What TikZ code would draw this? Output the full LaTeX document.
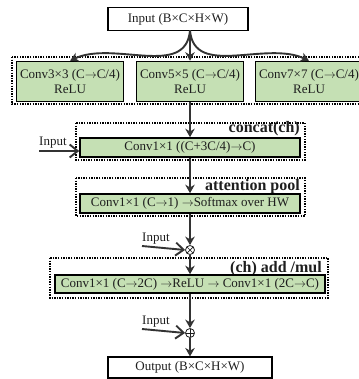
\documentclass[tikz,border=0pt]{standalone}
\usepackage{fontspec}
\setmainfont{Liberation Serif}
\usetikzlibrary{arrows.meta}
\definecolor{boxgreen}{HTML}{C5E0B4}
\definecolor{arrowgray}{HTML}{333333}
\definecolor{txtgray}{HTML}{1E1E1E}
\newcommand{\ar}{\ensuremath{\rightarrow}}
\tikzset{
  plainbox/.style={draw=black,line width=1.1pt,fill=white,inner sep=0pt,text=txtgray,
    font=\fontsize{13}{15}\selectfont},
  greenbox/.style={draw=black,line width=1.6pt,fill=boxgreen,inner sep=0pt,text=txtgray,
    font=\fontsize{13}{15}\selectfont,align=center},
  dotbox/.style={draw=black,line width=1.8pt,dash pattern=on 1.4pt off 1.2pt},
  grouplabel/.style={font=\bfseries\fontsize{16}{18}\selectfont,anchor=base east,inner sep=0pt,text=txtgray},
  flow/.style={draw=arrowgray,line width=1.9pt,-{Stealth[length=8.5pt,width=9.5pt]}},
  sidein/.style={draw=arrowgray,line width=1.9pt,-{Straight Barb[length=8pt,width=13pt,line width=1.9pt]}},
  inlabel/.style={font=\fontsize{13}{15}\selectfont,text=txtgray,inner sep=0pt,anchor=base west},
  opnode/.style={circle,draw=txtgray,line width=0.8pt,fill=white,inner sep=0pt,minimum size=9pt},
  mulop/.style={opnode,path picture={\draw[txtgray,line width=0.7pt]
     ([shift={(-45:4.5pt)}]path picture bounding box.center) -- ([shift={(135:4.5pt)}]path picture bounding box.center)
     ([shift={(45:4.5pt)}]path picture bounding box.center) -- ([shift={(-135:4.5pt)}]path picture bounding box.center);}},
  addop/.style={opnode,path picture={\draw[txtgray,line width=0.7pt]
     (path picture bounding box.north) -- (path picture bounding box.south)
     (path picture bounding box.west) -- (path picture bounding box.east);}}
}
\begin{document}
\begin{tikzpicture}[x=1pt,y=-1pt]
\useasboundingbox (0,0) rectangle (358,379);
% input
\node[plainbox,minimum width=140pt,minimum height=23pt] (inp) at (178,19) {Input (B×C×H×W)};
\coordinate (inpout) at (190,30.5);
% multi-scale group
\draw[dotbox] (12,57) rectangle (366,104);
\node[greenbox,minimum width=107pt,minimum height=40pt] (c3) at (70,81.5) {Conv3×3 (C\ar C/4)\\ReLU};
\node[greenbox,minimum width=107pt,minimum height=40pt] (c5) at (190,81.5) {Conv5×5 (C\ar C/4)\\ReLU};
\node[greenbox,minimum width=107pt,minimum height=40pt] (c7) at (309,81.5) {Conv7×7 (C\ar C/4)\\ReLU};
\draw[flow] (inpout) to[out=-95,in=25] (c3.north);
\draw[flow] (inpout) -- (c5.north);
\draw[flow] (inpout) to[out=-85,in=155] (c7.north);
% concat
\draw[dotbox] (76,123) rectangle (305,160);
\node[grouplabel] (lconcat) at (300,133) {concat(ch)};
\node[greenbox,minimum width=220pt,minimum height=19pt] (cat) at (190,147.5) {Conv1×1 ((C+3C/4)\ar C)};
\draw[flow] (c5.south) -- (cat.north);
\node[inlabel] (in1) at (39,146) {Input};
\coordinate (in1s) at (39,151);
\draw[sidein] (in1s) -- (cat.west |- in1s);
% attention pool
\draw[dotbox] (76,178) rectangle (305,216);
\node[grouplabel] (latt) at (300,190) {attention pool};
\node[greenbox,minimum width=220pt,minimum height=19pt] (att) at (190,203.5) {Conv1×1 (C\ar 1) \ar Softmax over HW};
\draw[flow] (cat.south) -- (att.north);
% otimes
\node[mulop] (mul) at (190,250) {};
\draw[flow] (att.south) -- (mul.north);
\node[inlabel] (in2) at (142,241) {Input};
\coordinate (in2s) at (142,246);
\draw[sidein] (in2s) -- (mul.west);
% add/mul
\draw[dotbox] (50,258) rectangle (328,298);
\node[grouplabel] (ladd) at (322,272) {(ch) add /mul};
\node[greenbox,minimum width=270pt,minimum height=18pt] (chm) at (190,284) {Conv1×1 (C\ar 2C) \ar ReLU \ar\ Conv1×1 (2C\ar C)};
\draw[flow] (mul.south) -- (chm.north);
% oplus
\node[addop] (add) at (190,333) {};
\draw[flow] (chm.south) -- (add.north);
\node[inlabel] (in3) at (142,324) {Input};
\coordinate (in3s) at (142,329);
\draw[sidein] (in3s) -- (add.west);
% output
\node[plainbox,minimum width=164pt,minimum height=21pt] (out) at (190,367.5) {Output (B×C×H×W)};
\draw[flow] (add.south) -- (out.north);
\end{tikzpicture}
\end{document}
